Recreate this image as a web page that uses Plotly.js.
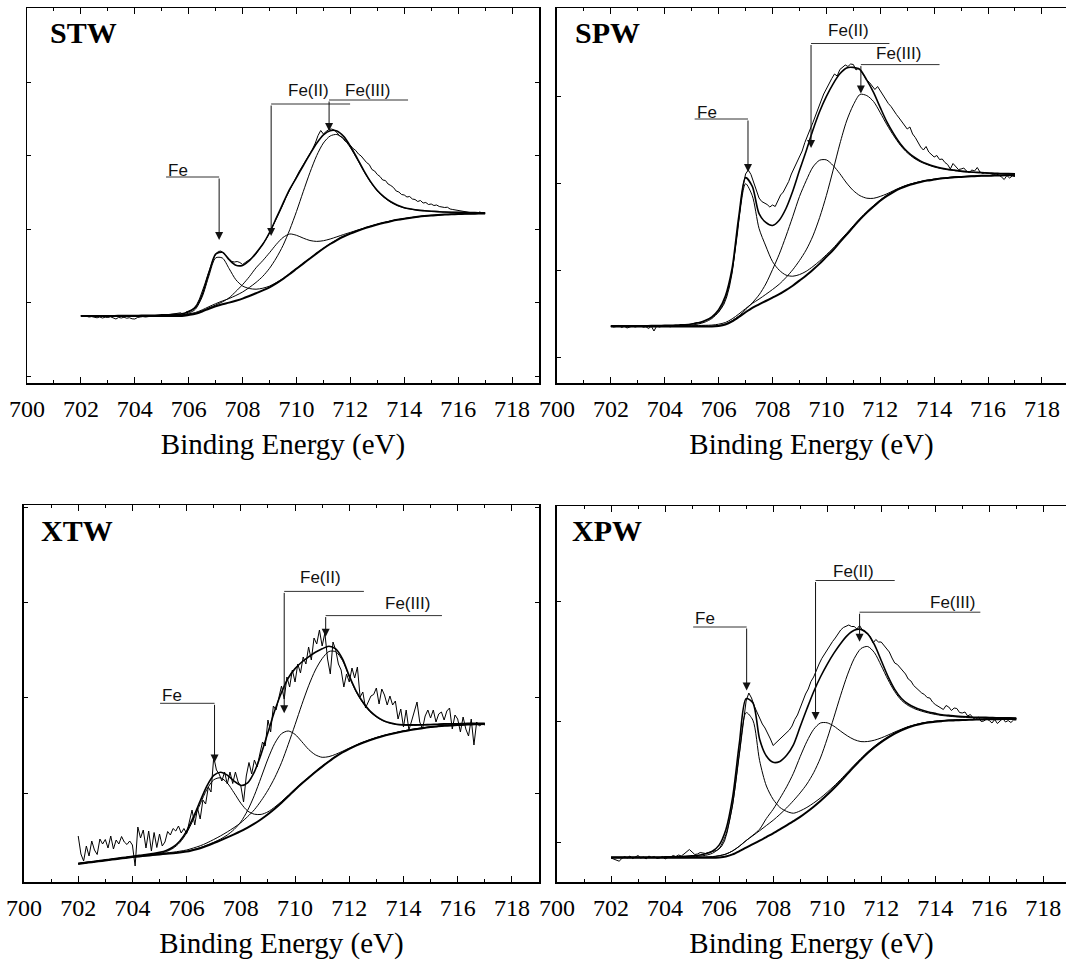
<!DOCTYPE html>
<html>
<head>
<meta charset="utf-8">
<script src="https://cdn.plot.ly/plotly-3.0.1.min.js"></script>
<style>
html,body{margin:0;padding:0;background:#fff;}
#chart{width:1066px;height:962px;}
</style>
</head>
<body>
<div id="chart"></div>
<script>
// ---------- shared energy grids (eV) ----------
const energyFit = [702,702.25,702.5,702.75,703,703.25,703.5,703.75,704,704.25,704.5,704.75,705,705.25,705.5,705.75,
706,706.25,706.5,706.75,707,707.25,707.5,707.75,708,708.25,708.5,708.75,709,709.25,709.5,709.75,
710,710.25,710.5,710.75,711,711.25,711.5,711.75,712,712.25,712.5,712.75,713,713.25,713.5,713.75,
714,714.25,714.5,714.75,715,715.25,715.5,715.75,716,716.25,716.5,716.75,717];

const energyRaw = [702.0,702.1,702.2,702.3,702.4,702.5,702.6,702.7,702.8,702.9,
703.0,703.1,703.2,703.3,703.4,703.5,703.6,703.7,703.8,703.9,
704.0,704.1,704.2,704.3,704.4,704.5,704.6,704.7,704.8,704.9,
705.0,705.1,705.2,705.3,705.4,705.5,705.6,705.7,705.8,705.9,
706.0,706.1,706.2,706.3,706.4,706.5,706.6,706.7,706.8,706.9,
707.0,707.1,707.2,707.3,707.4,707.5,707.6,707.7,707.8,707.9,
708.0,708.1,708.2,708.3,708.4,708.5,708.6,708.7,708.8,708.9,
709.0,709.1,709.2,709.3,709.4,709.5,709.6,709.7,709.8,709.9,
710.0,710.1,710.2,710.3,710.4,710.5,710.6,710.7,710.8,710.9,
711.0,711.1,711.2,711.3,711.4,711.5,711.6,711.7,711.8,711.9,
712.0,712.1,712.2,712.3,712.4,712.5,712.6,712.7,712.8,712.9,
713.0,713.1,713.2,713.3,713.4,713.5,713.6,713.7,713.8,713.9,
714.0,714.1,714.2,714.3,714.4,714.5,714.6,714.7,714.8,714.9,
715.0,715.1,715.2,715.3,715.4,715.5,715.6,715.7,715.8,715.9,
716.0,716.1,716.2,716.3,716.4,716.5,716.6,716.7,716.8,716.9,
717.0];

const tickLabels = ['700','702','704','706','708','710','712','714','716','718'];
const panelNames = ['STW','SPW','XTW','XPW'];
const peakLabels = ['Fe','Fe(II)','Fe(III)'];

// ---------- STW (intensity, a.u.) ----------
const stwRaw = [67.0,66.5,66.8,66.0,66.4,65.5,65.2,66.0,65.0,65.8,
65.5,66.2,65.0,64.0,65.6,65.0,65.8,64.8,65.3,64.2,
64.0,65.5,66.0,66.4,66.0,66.6,66.8,66.5,67.0,67.2,
67.5,67.8,68.0,68.3,68.6,69.0,69.6,70.2,68.5,71.0,
72.0,73.0,75.0,78.5,84.0,91.0,99.0,107.5,115.5,123.0,
129.0,131.5,132.0,129.5,126.5,123.5,121.5,121.0,121.5,120.5,
118.5,120.5,122.5,124.0,126.0,129.0,133.0,137.0,140.5,145.0,
150.0,155.5,161.5,168.0,173.5,178.5,185.0,190.5,196.0,201.5,
207.0,211.5,216.0,220.5,225.0,229.0,234.0,240.0,247.5,252.5,
249.0,251.5,253.5,254.0,253.0,250.5,247.0,245.5,242.0,240.5,
237.0,234.5,232.5,229.0,227.0,223.5,220.5,218.5,213.5,212.0,
208.5,206.5,203.0,202.5,199.0,197.5,195.5,192.0,191.0,188.5,
188.0,186.0,186.5,184.0,183.5,181.5,182.5,180.0,180.5,178.5,
179.0,177.5,178.0,176.5,176.0,175.5,175.8,174.0,173.5,173.0,
172.0,171.5,171.0,170.5,170.6,170.2,170.0,169.5,171.0,170.0,
170.5];
const stwEnvelope = [67.3,67.3,67.3,67.3,67.3,67.3,67.4,67.5,67.5,67.6,67.7,67.8,68.1,68.2,68.6,69.1,
71.3,75.6,88.3,109.9,128.8,130.7,123.3,117.7,117.6,122.3,130.0,138.7,150.5,164.8,179.6,193.8,205.4,217.2,228.8,239.7,
248.1,252.3,252.0,246.6,236.8,224.9,212.4,201.4,192.5,186.1,181.2,177.7,175.3,174.0,172.9,172.3,171.8,171.4,171.0,170.8,
170.7,170.6,170.5,170.3,170.1];
const stwBackground = [67.0,67.0,67.0,67.0,67.0,67.0,67.0,67.0,67.0,67.0,67.0,67.0,67.0,67.0,67.0,67.0,
68.0,69.2,71.5,74.3,76.8,78.7,80.4,82.3,84.4,87.0,89.8,92.6,95.7,99.6,104.0,109.0,114.2,119.4,124.5,129.6,
134.5,139.0,143.0,146.5,149.4,152.0,154.4,156.5,158.5,160.2,161.8,163.2,164.3,165.3,166.2,167.0,167.6,168.0,168.4,168.7,
169.0,169.2,169.3,169.4,169.4];
const stwFe = [67.1,67.1,67.1,67.1,67.1,67.1,67.2,67.2,67.2,67.2,67.3,67.3,67.4,67.5,67.7,68.0,
69.8,73.8,86.1,107.1,125.1,125.0,114.4,103.3,97.0,94.5,93.8,94.8,96.9,100.4,104.6,109.5,114.6,119.8,124.8,129.9,
134.8,139.3,143.3,146.8,149.6,152.2,154.6,156.7,158.7,160.4,162.0,163.4,164.4,165.4,166.3,167.1,167.7,168.1,168.5,168.8,
169.1,169.3,169.4,169.5,169.5];
const stwFeII = [67.1,67.1,67.1,67.1,67.1,67.1,67.1,67.1,67.1,67.1,67.1,67.1,67.2,67.2,67.3,67.3,
68.4,69.7,72.1,75.1,78.0,81.1,85.2,91.5,98.4,106.3,115.2,122.4,130.3,138.6,145.5,149.0,147.7,144.9,142.5,141.6,
142.3,144.0,146.2,148.5,150.6,152.8,154.9,156.9,158.8,160.5,162.0,163.4,164.4,165.4,166.2,167.0,167.6,168.0,168.4,168.7,
169.0,169.2,169.3,169.4,169.4];
const stwFeIII = [67.1,67.1,67.1,67.1,67.1,67.1,67.1,67.2,67.2,67.3,67.3,67.4,67.5,67.5,67.6,67.8,
69.1,70.5,73.1,76.3,79.3,82.0,84.5,87.5,91.0,95.5,100.6,106.7,114.7,125.0,137.5,153.3,171.5,191.3,210.5,227.4,
240.0,247.0,248.5,244.3,235.4,223.9,211.7,200.8,192.0,185.6,180.8,177.3,175.1,173.8,172.8,172.2,171.7,171.3,170.9,170.7,
170.6,170.5,170.4,170.2,170.0];

// ---------- SPW ----------
const spwRaw = [57.0,56.0,56.5,57.5,55.5,56.8,55.0,56.2,57.0,56.0,
56.5,57.5,55.8,56.3,54.5,56.8,52.0,57.0,56.0,56.8,
56.5,57.0,56.2,57.0,57.3,57.0,57.6,57.8,57.5,58.2,
58.5,59.5,60.5,60.0,61.0,61.8,63.0,64.5,66.5,68.5,
71.0,74.5,79.0,86.0,96.0,110.0,128.0,150.0,175.0,196.0,
209.0,213.0,208.5,201.0,192.0,185.0,181.5,180.0,178.5,176.0,
178.0,176.5,183.0,188.0,191.0,196.0,201.5,209.0,214.5,220.0,
226.5,232.0,240.5,246.5,254.0,260.5,268.0,276.5,282.0,289.0,
294.5,300.0,304.5,309.0,307.0,313.5,316.0,318.0,316.5,319.0,
318.5,313.0,315.0,311.0,306.5,303.0,300.5,297.5,293.5,296.5,
292.0,288.0,283.5,279.5,276.5,272.0,268.5,265.0,261.0,257.0,
254.0,256.0,249.0,245.5,240.5,236.0,233.0,236.5,231.0,228.5,
226.0,227.5,223.5,224.0,220.5,218.5,214.0,219.5,216.0,213.5,
214.0,215.0,212.0,210.5,213.0,212.0,215.5,211.0,209.5,210.5,
210.0,209.5,208.5,209.0,208.0,206.0,203.5,207.5,205.0,207.0,
206.5];
const spwEnvelope = [57.1,57.1,57.1,57.1,57.2,57.2,57.4,57.4,57.6,57.6,58.0,58.3,59.0,60.2,62.5,66.2,
73.2,87.0,114.8,167.0,205.4,196.6,169.4,160.6,157.5,162.8,174.5,191.7,212.4,232.1,253.0,271.5,286.6,299.2,309.2,315.1,
315.6,313.4,302.8,290.6,275.4,260.9,249.1,239.1,231.5,226.0,221.9,219.1,216.8,215.0,213.8,212.9,211.9,211.2,210.7,210.5,
210.0,209.8,209.4,209.4,209.2];
const spwBackground = [56.5,56.5,56.5,56.5,56.5,56.5,56.5,56.5,56.5,56.5,56.5,56.5,56.5,56.5,56.5,56.5,
57.1,58.5,61.6,66.0,70.8,75.2,78.6,82.0,85.4,88.8,92.9,97.3,102.4,107.5,113.3,119.4,126.2,133.0,140.8,148.3,
156.1,163.6,170.4,176.5,182.3,187.1,191.2,194.6,197.3,199.3,201.0,202.4,203.4,204.4,205.1,205.8,206.1,206.5,206.8,207.2,
207.2,207.5,207.5,207.8,207.8];
const spwFe = [56.8,56.8,56.8,56.8,56.8,56.8,57.0,57.0,57.0,57.0,57.3,57.5,58.0,59.0,61.0,64.5,
71.1,84.5,111.6,163.0,199.3,187.2,154.6,137.0,121.4,112.8,107.9,106.8,108.4,111.7,116.5,122.0,128.3,134.8,142.4,149.7,
157.3,164.7,171.4,177.4,183.1,187.8,191.8,195.2,197.8,199.8,201.4,202.8,203.8,204.7,205.4,206.1,206.4,206.7,207.0,207.4,
207.4,207.7,207.6,207.9,207.9];
const spwFeII = [56.6,56.6,56.6,56.6,56.6,56.6,56.6,56.6,56.6,56.6,56.6,56.6,56.7,56.7,56.8,56.8,
57.5,59.0,62.3,67.0,73.3,80.2,88.1,99.0,113.4,128.8,146.9,166.3,186.4,202.3,216.0,222.8,223.1,217.5,209.3,200.0,
192.4,187.3,184.8,184.7,186.6,189.2,192.5,195.5,198.0,199.9,201.5,202.8,203.8,204.7,205.4,206.0,206.3,206.6,206.9,207.3,
207.3,207.6,207.6,207.9,207.9];
const spwFeIII = [56.7,56.7,56.7,56.7,56.8,56.8,56.8,56.8,57.0,57.0,57.1,57.2,57.3,57.5,57.7,57.9,
58.8,60.5,64.1,69.0,74.4,79.6,83.9,88.6,93.5,98.8,105.5,113.2,122.4,133.1,147.1,165.5,187.6,212.9,239.1,262.0,
278.1,288.6,287.4,281.5,270.3,258.1,247.2,237.6,230.3,224.9,221.0,218.3,216.0,214.4,213.2,212.4,211.4,210.9,210.4,210.2,
209.7,209.5,209.2,209.2,209.0];

// ---------- XTW ----------
const xtwRaw = [46.0,28.0,21.0,36.0,26.0,41.0,32.0,27.5,43.0,38.0,
42.5,34.0,46.0,33.0,42.0,38.0,45.5,40.0,37.5,41.0,
37.0,16.0,55.0,44.0,52.0,34.0,51.0,31.0,49.5,34.5,
48.0,36.0,40.0,50.5,47.0,53.5,51.0,56.0,49.0,53.5,
48.5,62.0,72.0,57.0,74.0,63.0,82.0,78.0,95.0,90.0,
125.0,112.0,108.0,101.0,110.0,98.0,110.0,98.5,110.0,100.0,
96.0,80.0,106.0,119.5,108.0,122.0,115.0,128.0,140.0,136.0,
162.0,150.0,176.0,172.0,185.0,196.0,183.0,205.0,195.0,212.0,
200.0,218.0,209.0,225.0,218.0,235.0,222.0,244.0,238.0,252.0,
236.0,249.0,223.0,208.0,240.0,232.0,218.0,212.0,195.0,208.0,
200.0,214.0,204.0,215.0,185.0,190.0,174.0,181.0,186.0,187.5,
194.0,178.0,193.0,187.0,177.0,186.0,177.0,181.0,163.0,173.0,
155.0,172.0,152.0,161.0,171.0,180.0,160.0,153.0,166.0,172.0,
164.0,172.0,160.0,168.0,170.0,162.0,171.0,174.0,153.0,167.0,
163.0,150.0,165.0,153.0,146.0,163.0,137.0,160.0,156.0,158.0,
157.0];
const xtwEnvelope = [18.6,19.5,20.3,21.3,22.1,23.0,23.9,24.8,25.8,26.6,27.4,28.4,29.6,31.5,35.0,41.0,
50.9,65.0,81.0,96.2,106.6,109.8,106.9,100.9,96.6,99.2,110.2,128.0,149.5,171.2,189.5,204.0,213.4,220.0,225.2,229.7,
233.2,235.8,233.1,223.1,206.2,191.2,180.0,171.4,165.7,161.6,159.2,157.8,157.3,157.1,157.2,157.3,157.5,157.8,158.1,158.2,
158.3,158.5,158.7,158.8,158.8];
const xtwBackground = [18.1,19.0,19.8,20.7,21.5,22.4,23.2,24.1,24.9,25.6,26.2,26.9,27.6,28.2,28.7,29.5,
30.4,32.0,33.8,36.2,38.9,41.7,44.6,47.6,50.8,54.4,58.3,62.8,67.8,73.3,79.3,85.7,92.3,98.4,104.2,110.0,
115.4,120.5,125.3,129.5,133.1,136.3,139.2,141.7,144.0,146.0,147.7,149.3,150.8,152.0,153.1,154.1,154.9,155.6,156.2,156.6,
156.9,157.3,157.6,157.8,157.9];
const xtwFe = [18.3,19.2,20.0,20.9,21.7,22.6,23.4,24.3,25.2,26.0,26.7,27.6,28.6,30.4,33.7,39.5,
49.0,62.6,78.1,92.7,102.2,104.2,99.0,89.2,78.8,71.0,67.8,67.6,70.2,74.9,80.5,86.7,93.1,99.1,104.8,110.5,
115.9,120.9,125.7,129.9,133.4,136.6,139.5,142.0,144.3,146.3,148.0,149.6,151.1,152.3,153.4,154.3,155.1,155.8,156.4,156.8,
157.1,157.5,157.8,158.0,158.1];
const xtwFeII = [18.2,19.1,19.9,20.8,21.6,22.5,23.3,24.2,25.0,25.7,26.3,27.0,27.8,28.4,28.9,29.7,
30.7,32.4,34.3,36.8,39.7,42.9,47.0,52.5,60.1,71.6,86.7,104.7,123.1,138.6,148.3,151.0,147.6,140.3,132.6,127.2,
124.7,125.4,127.7,130.7,133.9,136.9,139.7,142.1,144.4,146.3,147.9,149.5,151.0,152.2,153.3,154.2,155.0,155.7,156.3,156.7,
157.0,157.4,157.7,157.9,158.0];
const xtwFeIII = [18.3,19.2,20.0,21.0,21.8,22.7,23.6,24.5,25.4,26.1,26.8,27.6,28.4,29.1,29.8,30.8,
32.0,34.0,36.2,39.1,42.5,46.1,50.1,54.4,59.3,65.4,72.3,81.3,91.8,104.3,119.3,137.7,157.3,177.4,196.2,212.0,
223.4,230.5,230.3,221.5,205.1,190.3,179.2,170.7,165.0,161.0,158.7,157.3,156.8,156.6,156.7,157.0,157.2,157.5,157.8,157.9,
158.0,158.2,158.4,158.5,158.5];

// ---------- XPW ----------
const xpwRaw = [24.0,23.0,22.5,20.8,23.5,25.5,24.0,26.0,23.5,25.0,
26.5,24.0,25.0,23.0,26.0,24.5,25.5,23.5,24.0,25.5,
23.0,24.5,25.0,26.5,25.5,27.0,26.0,28.0,30.5,32.5,
30.0,27.5,28.0,29.5,29.0,28.5,29.5,30.0,30.5,31.5,
33.0,36.0,41.0,50.0,63.0,77.0,96.0,118.0,140.0,163.0,
181.0,189.0,184.0,176.0,170.0,163.0,158.0,154.0,149.0,143.0,
136.5,139.0,141.0,144.0,146.0,148.5,152.0,156.0,162.5,167.0,
174.0,182.0,188.0,193.0,200.5,205.0,212.0,218.0,223.5,228.0,
232.0,236.0,240.5,244.0,248.0,252.0,254.5,256.0,257.0,255.5,
255.5,253.0,256.5,252.0,250.0,248.5,245.0,239.0,242.5,240.0,
240.0,236.5,233.0,230.0,224.0,219.0,217.5,214.5,212.0,208.0,
203.0,201.0,196.5,194.0,191.0,189.0,187.5,184.5,184.0,180.0,
177.5,176.0,174.0,172.5,176.5,175.0,171.5,174.0,173.5,169.5,
169.0,170.0,166.0,167.5,164.0,162.5,165.0,160.5,161.0,163.0,
161.5,159.0,162.5,158.5,161.0,163.5,160.0,161.5,159.5,162.0,
162.0];
const xpwEnvelope = [24.9,24.9,24.9,24.9,25.0,25.0,25.0,25.0,25.1,25.1,25.4,25.6,26.1,26.8,28.2,30.8,
36.9,52.3,84.6,138.8,183.4,179.3,142.8,126.0,119.7,120.6,126.7,137.2,155.3,173.2,190.3,205.0,217.7,228.9,238.6,246.7,
251.8,252.6,248.1,237.3,221.5,205.7,192.7,183.5,178.0,174.4,171.9,170.0,168.6,167.3,166.6,165.9,165.4,165.1,164.8,164.7,
164.5,164.3,164.1,164.1,164.0];
const xpwBackground = [24.2,24.2,24.2,24.2,24.2,24.2,24.2,24.2,24.2,24.2,24.2,24.2,24.2,24.2,24.2,24.2,
24.6,25.5,27.6,30.8,34.4,37.8,41.3,45.0,48.7,52.6,56.6,60.8,65.1,70.0,75.3,81.0,87.2,93.8,100.8,108.1,
115.4,122.4,129.0,134.8,139.9,144.4,148.4,151.7,154.5,156.6,158.3,159.5,160.3,160.9,161.4,161.7,162.0,162.2,162.4,162.6,
162.7,162.8,162.9,163.0,163.0];
const xpwFe = [24.5,24.5,24.5,24.5,24.5,24.5,24.5,24.5,24.5,24.5,24.7,24.9,25.2,25.7,26.7,28.7,
33.6,47.5,77.6,128.8,169.4,161.8,121.3,96.0,82.7,74.6,70.6,68.8,71.1,74.6,79.0,84.0,89.7,95.9,102.6,109.7,
116.8,123.6,130.1,135.8,140.8,145.2,149.1,152.4,155.1,157.2,158.8,160.0,160.8,161.3,161.8,162.1,162.3,162.5,162.7,162.9,
163.0,163.0,163.1,163.2,163.2];
const xpwFeII = [24.4,24.4,24.4,24.4,24.4,24.4,24.4,24.4,24.4,24.4,24.4,24.4,24.5,24.6,24.8,25.1,
26.2,27.9,31.1,35.8,41.4,46.8,52.8,63.5,72.7,83.6,95.2,108.7,125.3,140.6,152.6,159.0,159.2,155.8,150.8,146.1,
142.4,140.4,140.5,141.8,144.1,146.9,150.0,152.8,155.4,157.3,158.9,160.0,160.8,161.3,161.8,162.0,162.3,162.5,162.6,162.8,
162.9,163.0,163.0,163.1,163.1];
const xpwFeIII = [24.4,24.4,24.4,24.4,24.5,24.5,24.5,24.5,24.6,24.6,24.7,24.7,24.8,24.9,25.1,25.4,
26.3,27.9,31.1,35.8,41.4,46.3,51.3,56.5,61.7,67.6,74.1,81.3,89.1,98.0,109.3,124.0,143.2,164.8,186.8,207.1,
223.4,233.4,235.5,229.3,216.4,202.4,190.4,181.7,176.5,173.1,170.8,169.0,167.6,166.5,165.8,165.2,164.8,164.5,164.3,164.2,
164.0,163.9,163.8,163.8,163.7];

// ---------- panel configuration (layout, not data) ----------
const INK = '#000';
const SERIF = 'Liberation Serif, Times New Roman, serif';
const SANS = 'Liberation Sans, Arial, sans-serif';

const panels = [
  {xa:'x',  ya:'y',  raw:stwRaw, env:stwEnvelope, bg:stwBackground, fe:stwFe, fe2:stwFeII, fe3:stwFeIII,
   xdom:[0.02533,0.50563], ydom:[0.60187,0.99168], xr:[700,719], yr:[0,375], ytick0:7, ydtick:73.5, rightEdge:true,
   nameX:0.045, nameY:0.9657,
   call:[{tx:705.16,ty:213,stem:707.13,ly:206,tip:143,x0:705.16,x1:707.13,anchor:'left'},
         {tx:710.45,ty:293,stem:709.06,ly:279,tip:147,x0:709.06,x1:711.99},
         {tx:712.62,ty:293,stem:711.21,ly:283,tip:252,x0:711.21,x1:714.14}]},
  {xa:'x2', ya:'y2', raw:spwRaw, env:spwEnvelope, bg:spwBackground, fe:spwFe, fe2:spwFeII, fe3:spwFeIII,
   xdom:[0.52251,1.0], ydom:[0.60187,0.99168], xr:[700,718.894], yr:[0,375], ytick0:26, ydtick:87, rightEdge:false,
   nameX:0.5375, nameY:0.9657,
   call:[{tx:705.11,ty:271,stem:707.09,ly:264,tip:211,x0:705.11,x1:707.09,anchor:'left'},
         {tx:710.82,ty:353,stem:709.43,ly:339.5,tip:235,x0:709.43,x1:712.34},
         {tx:712.68,ty:330,stem:711.28,ly:318.4,tip:289.5,x0:711.28,x1:714.2}]},
  {xa:'x3', ya:'y3', raw:xtwRaw, env:xtwEnvelope, bg:xtwBackground, fe:xtwFe, fe2:xtwFeII, fe3:xtwFeIII,
   xdom:[0.02251,0.50563], ydom:[0.08316,0.47505], xr:[700,719], yr:[0,377], ytick0:88.9, ydtick:95.2, rightEdge:true,
   nameX:0.0366, nameY:0.449,
   call:[{tx:705.02,ty:187,stem:707.03,ly:178.7,tip:119.5,x0:705.02,x1:707.03,anchor:'left'},
         {tx:710.95,ty:305,stem:709.6,ly:290.6,tip:168.8,x0:709.6,x1:712.54},
         {tx:714.16,ty:278.7,stem:711.13,ly:266.4,tip:245.3,x0:711.13,x1:715.42}]},
  {xa:'x4', ya:'y4', raw:xpwRaw, env:xpwEnvelope, bg:xpwBackground, fe:xpwFe, fe2:xpwFeII, fe3:xpwFeIII,
   xdom:[0.52251,1.0], ydom:[0.08316,0.47401], xr:[700,718.84], yr:[0,376], ytick0:39.6, ydtick:120.7, rightEdge:false,
   nameX:0.5344, nameY:0.449,
   call:[{tx:705.04,ty:264,stem:707.02,ly:255,tip:191.6,x0:705.04,x1:707.02,anchor:'left'},
         {tx:710.96,ty:311,stem:709.57,ly:301.5,tip:162,x0:709.57,x1:712.5},
         {tx:714.63,ty:280,stem:711.2,ly:269.8,tip:240.2,x0:711.2,x1:715.67}]}
];

const traces = [];
const shapes = [];
const annotations = [];
const layout = {
  width:1066, height:962,
  margin:{l:0,r:0,t:0,b:0,pad:0},
  paper_bgcolor:'#fff', plot_bgcolor:'#fff',
  showlegend:false,
  font:{family:SERIF, color:INK}
};

function line(x, y, xa, ya, w, smooth) {
  return {type:'scatter', mode:'lines', x:x, y:y, xaxis:xa, yaxis:ya, hoverinfo:'skip',
          line:{color:INK, width:w, shape: smooth ? 'spline' : 'linear', smoothing:0.8}};
}

panels.forEach((p, k) => {
  traces.push(line(energyRaw, p.raw, p.xa, p.ya, 1, false));
  traces.push(line(energyFit, p.fe3, p.xa, p.ya, 1, true));
  traces.push(line(energyFit, p.fe2, p.xa, p.ya, 1, true));
  traces.push(line(energyFit, p.fe,  p.xa, p.ya, 1, true));
  traces.push(line(energyFit, p.bg,  p.xa, p.ya, 2, true));
  traces.push(line(energyFit, p.env, p.xa, p.ya, 1.6, true));

  const xKey = 'xaxis' + (k === 0 ? '' : k + 1);
  const yKey = 'yaxis' + (k === 0 ? '' : k + 1);
  layout[xKey] = {
    domain:p.xdom, range:p.xr, anchor:p.ya, autorange:false,
    showline:true, linecolor:INK, linewidth:1.5, mirror:'ticks',
    showgrid:false, zeroline:false,
    tickmode:'array', tickvals:tickLabels.map(Number), ticktext:tickLabels,
    ticks:'inside', ticklen:6, tickwidth:1, tickcolor:INK,
    minor:{dtick:1, tick0:700, ticks:'inside', ticklen:3, tickwidth:1, tickcolor:INK, showgrid:false},
    tickfont:{family:SERIF, size:24, color:INK},
    ticklabelstandoff:4,
    title:{text:'Binding Energy (eV)', font:{family:SERIF, size:29, color:INK}, standoff:12},
    automargin:false, fixedrange:true
  };
  layout[yKey] = {
    domain:p.ydom, range:p.yr, anchor:p.xa, autorange:false,
    showline:true, linecolor:INK, linewidth:1.5, mirror:(p.rightEdge ? 'ticks' : false),
    showgrid:false, zeroline:false, showticklabels:false,
    tick0:p.ytick0, dtick:p.ydtick, ticks:'inside', ticklen:4, tickwidth:1, tickcolor:INK,
    automargin:false, fixedrange:true
  };

  annotations.push({xref:'paper', yref:'paper', x:p.nameX, y:p.nameY, xanchor:'left', yanchor:'middle',
    text:'<b>' + panelNames[k] + '</b>', showarrow:false, font:{family:SERIF, size:30, color:INK}});

  p.call.forEach((c, j) => {
    shapes.push({type:'line', xref:p.xa, yref:p.ya, x0:c.x0, x1:c.x1, y0:c.ly, y1:c.ly,
                 line:{color:'#333', width:1}});
    annotations.push({xref:p.xa, yref:p.ya, x:c.stem, y:c.tip,
      ax:c.stem, ay:c.ly, axref:p.xa, ayref:p.ya, text:'', showarrow:true,
      arrowhead:2, arrowsize:1.6, arrowwidth:1, arrowcolor:'#111', standoff:0, startstandoff:0});
    annotations.push({xref:p.xa, yref:p.ya, x:c.tx, y:c.ty,
      xanchor:(c.anchor === 'left' ? 'left' : 'center'), yanchor:'middle',
      text:peakLabels[j], showarrow:false, font:{family:SANS, size:17, color:'#111'}});
  });
});

layout.shapes = shapes;
layout.annotations = annotations;

Plotly.newPlot('chart', traces, layout, {staticPlot:true, displayModeBar:false});
</script>
</body>
</html>
